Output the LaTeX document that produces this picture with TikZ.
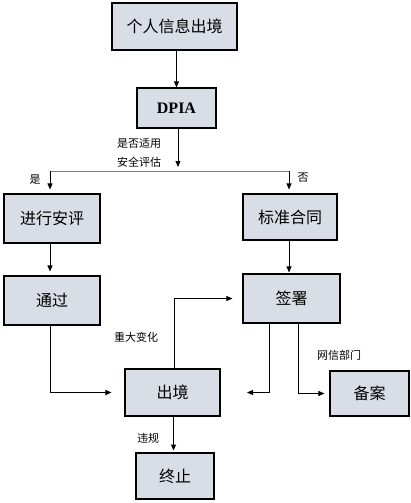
\documentclass[tikz,border=0pt]{standalone}
\usepackage{fontspec}
\newfontfamily\cjk{Noto Sans CJK SC}
\newfontfamily\latinb{Liberation Serif}
\usetikzlibrary{arrows.meta}
\definecolor{boxfill}{RGB}{217,221,229}
\tikzset{
  box/.style={draw=black, line width=1.1pt, fill=boxfill, inner sep=0pt, font=\cjk\fontsize{16}{16}\selectfont},
  arr/.style={draw=black, line width=0.9pt, -{Triangle[length=6pt,width=5pt]}},
  ln/.style={draw=black, line width=0.9pt},
  lab/.style={font=\cjk\fontsize{11}{11}\selectfont, inner sep=0pt}
}
\begin{document}
\begin{tikzpicture}[x=1pt,y=-1pt]
\useasboundingbox (0,0) rectangle (410,503);
\node[box, minimum width=125pt, minimum height=47pt] (src) at (174.5,26.5) {个人信息出境};
\node[box, minimum width=79pt, minimum height=40pt, font=\latinb\bfseries\fontsize{16}{16}\selectfont] (dpia) at (176.5,108) {DPIA};
\node[box, minimum width=96pt, minimum height=49pt] (anping) at (52,218.5) {进行安评};
\node[box, minimum width=94pt, minimum height=46pt] (hetong) at (290,217) {标准合同};
\node[box, minimum width=96pt, minimum height=49pt] (tongguo) at (52,300.5) {通过};
\node[box, minimum width=97pt, minimum height=49pt] (qianshu) at (291.5,298.5) {签署};
\node[box, minimum width=95pt, minimum height=47pt] (chujing) at (172.5,392.5) {出境};
\node[box, minimum width=79pt, minimum height=45pt] (beian) at (369.5,393.5) {备案};
\node[box, minimum width=78pt, minimum height=46pt] (zhongzhi) at (175,476) {终止};

\coordinate (dpiaout) at (178,128);
\coordinate (splitend) at (178,167);
\coordinate (bl) at (50,171);
\coordinate (bR) at (289,171);
\coordinate (backend) at (247,392.5);

\draw[arr] (src.south -| dpia) -- (dpia.north);
\draw[arr] (dpiaout) -- (splitend);
\draw[ln, draw=gray] (bl) -- (bR);
\draw[arr, shorten >=4pt] (bl) -- (anping.north -| bl);
\draw[arr, shorten >=4pt] (bR) -- (hetong.north -| bR);
\draw[arr, shorten >=4pt] (anping.south -| bl) -- (tongguo.north -| bl);
\draw[arr, shorten >=1pt] (hetong.south -| bR) -- (qianshu.north -| bR);
\draw[arr, shorten >=13pt] (tongguo.south -| bl) |- (chujing.west);
\draw[arr, shorten >=10pt] ([xshift=1.5pt]chujing.north) |- (qianshu.west);
\draw[arr] ([xshift=-22.5pt]qianshu.south) |- (backend);
\draw[arr, shorten >=5pt] ([xshift=6.5pt]qianshu.south) |- (beian.west);
\draw[arr] ([xshift=1pt]chujing.south) -- ++(0,34);

\node[lab] (l1) at (139,143) {是否适用};
\node[lab] (l2) at (139,162) {安全评估};
\node[lab] (l3) at (35,180) {是};
\node[lab] (l4) at (303,178) {否};
\node[lab] (l5) at (136,337) {重大变化};
\node[lab] (l6) at (339,355) {网信部门};
\node[lab] (l7) at (148,438) {违规};
\end{tikzpicture}
\end{document}
